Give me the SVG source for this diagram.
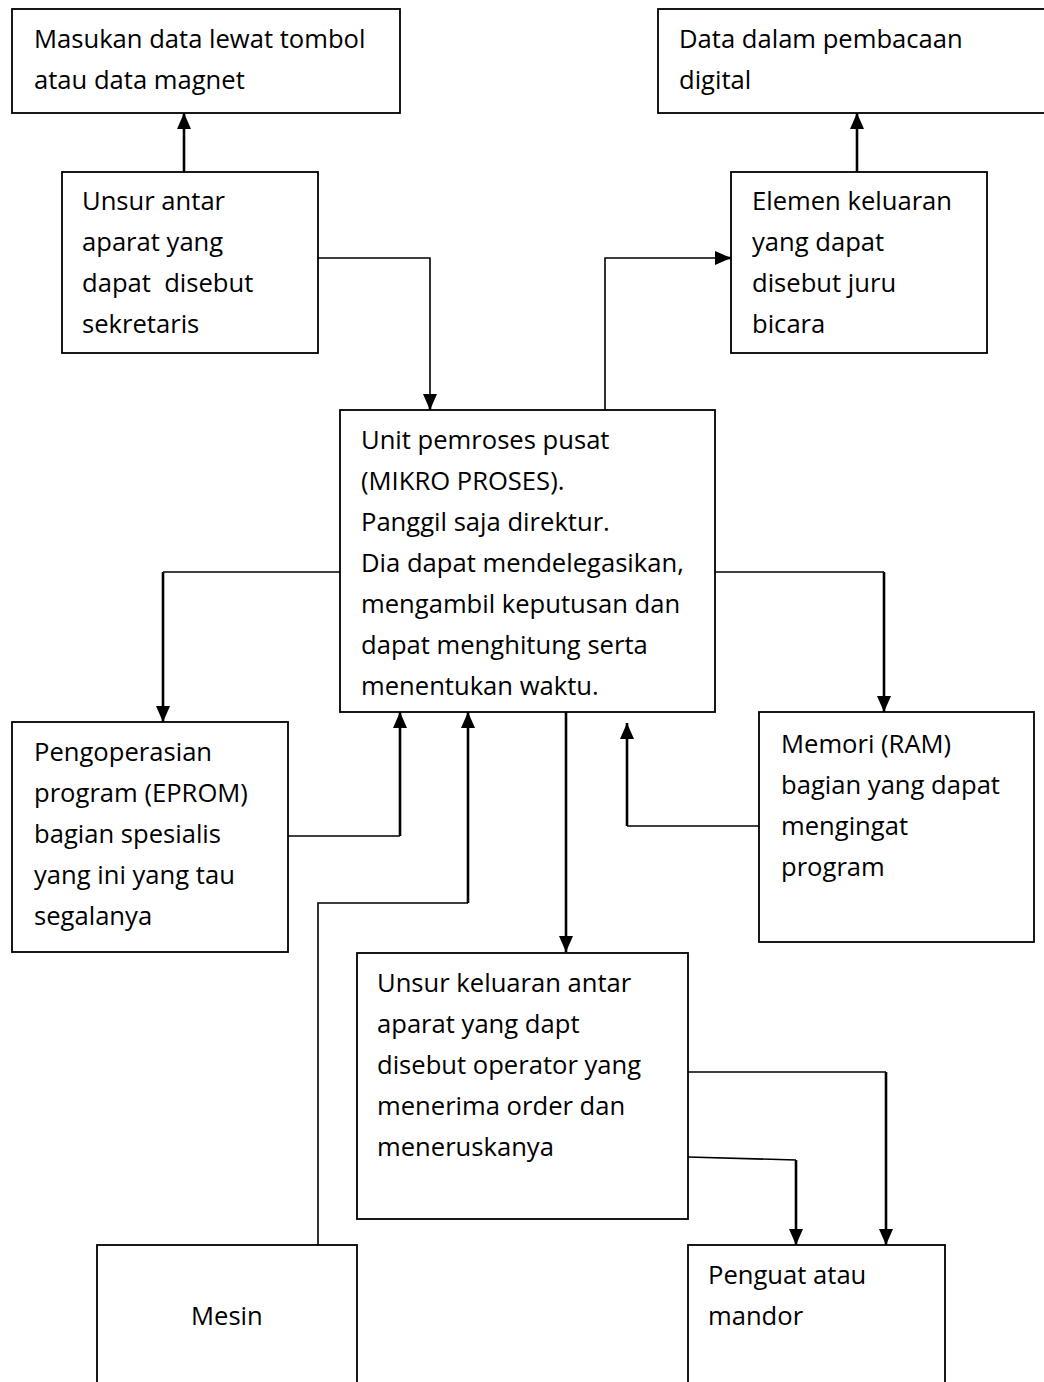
<svg xmlns="http://www.w3.org/2000/svg" width="1044" height="1382" viewBox="0 0 1044 1382">
<style>
.box{fill:#fff;stroke:#000;stroke-width:1.8}
.t{font-family:"Open Sans","Noto Sans",sans-serif;font-size:25.6px;fill:#000}
.c{fill:none;stroke:#000;stroke-width:1.6}
.ca{fill:none;stroke:#000;stroke-width:2.6;marker-end:url(#ah)}
</style>
<defs>
<marker id="ah" viewBox="0 0 16 14" refX="16" refY="7" markerWidth="16" markerHeight="14" markerUnits="userSpaceOnUse" orient="auto">
<path d="M0,0 L16,7 L0,14 Z" fill="#000"/>
</marker>
</defs>
<rect width="1044" height="1382" fill="#fff"/>
<g id="connectors">
<path class="ca" d="M184,172 V113"/>
<path class="ca" d="M857,172 V113"/>
<path class="c" d="M318,258 H430 V395"/>
<path class="ca" d="M430,394 V410"/>
<path class="c" d="M605,410 V258 H718"/>
<path class="ca" d="M716,258 H731"/>
<path class="c" d="M340,572 H163"/>
<path class="ca" d="M163,572 V722"/>
<path class="c" d="M715,572 H884"/>
<path class="ca" d="M884,572 V712"/>
<path class="c" d="M288,836 H400"/>
<path class="ca" d="M400,836 V712"/>
<path class="c" d="M318,1245 V903 H468"/>
<path class="ca" d="M468,903 V712"/>
<path class="c" d="M759,826 H627"/>
<path class="ca" d="M627,826 V723"/>
<path class="ca" d="M566,712 V952"/>
<path class="c" d="M688,1072 H886"/>
<path class="ca" d="M886,1072 V1245"/>
<path class="c" d="M688,1157 L796,1160"/>
<path class="ca" d="M796,1160 V1245"/>
</g>
<g id="n1"><rect class="box" x="12" y="9" width="388" height="104"/>
<text class="t" x="34" y="48">Masukan data lewat tombol</text>
<text class="t" x="34" y="89">atau data magnet</text></g>
<g id="n2"><rect class="box" x="62" y="172" width="256" height="181"/>
<text class="t" x="82" y="210">Unsur antar</text>
<text class="t" x="82" y="251">aparat yang</text>
<text class="t" x="82" y="292" xml:space="preserve">dapat  disebut</text>
<text class="t" x="82" y="333">sekretaris</text></g>
<g id="n3"><rect class="box" x="658" y="9" width="400" height="104"/>
<text class="t" x="679" y="48">Data dalam pembacaan</text>
<text class="t" x="679" y="89">digital</text></g>
<g id="n4"><rect class="box" x="731" y="172" width="256" height="181"/>
<text class="t" x="752" y="210">Elemen keluaran</text>
<text class="t" x="752" y="251">yang dapat</text>
<text class="t" x="752" y="292">disebut juru</text>
<text class="t" x="752" y="333">bicara</text></g>
<g id="n5"><rect class="box" x="340" y="410" width="375" height="302"/>
<text class="t" x="361" y="449">Unit pemroses pusat</text>
<text class="t" x="361" y="490">(MIKRO PROSES).</text>
<text class="t" x="361" y="531">Panggil saja direktur.</text>
<text class="t" x="361" y="572">Dia dapat mendelegasikan,</text>
<text class="t" x="361" y="613">mengambil keputusan dan</text>
<text class="t" x="361" y="654">dapat menghitung serta</text>
<text class="t" x="361" y="695">menentukan waktu.</text></g>
<g id="n6"><rect class="box" x="12" y="722" width="276" height="230"/>
<text class="t" x="34" y="761">Pengoperasian</text>
<text class="t" x="34" y="802">program (EPROM)</text>
<text class="t" x="34" y="843">bagian spesialis</text>
<text class="t" x="34" y="884">yang ini yang tau</text>
<text class="t" x="34" y="925">segalanya</text></g>
<g id="n7"><rect class="box" x="759" y="712" width="275" height="230"/>
<text class="t" x="781" y="753">Memori (RAM)</text>
<text class="t" x="781" y="794">bagian yang dapat</text>
<text class="t" x="781" y="835">mengingat</text>
<text class="t" x="781" y="876">program</text></g>
<g id="n8"><rect class="box" x="357" y="953" width="331" height="266"/>
<text class="t" x="377" y="992">Unsur keluaran antar</text>
<text class="t" x="377" y="1033">aparat yang dapt</text>
<text class="t" x="377" y="1074">disebut operator yang</text>
<text class="t" x="377" y="1115">menerima order dan</text>
<text class="t" x="377" y="1156">meneruskanya</text></g>
<g id="n9"><rect class="box" x="97" y="1245" width="260" height="150"/>
<text class="t" x="191" y="1325">Mesin</text></g>
<g id="n10"><rect class="box" x="688" y="1245" width="257" height="150"/>
<text class="t" x="708" y="1284">Penguat atau</text>
<text class="t" x="708" y="1325">mandor</text></g>
</svg>
